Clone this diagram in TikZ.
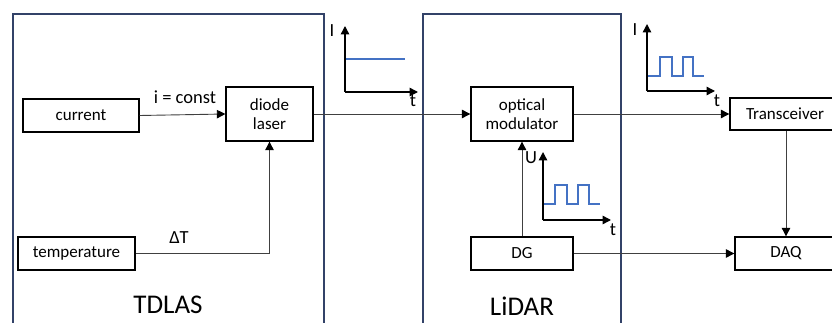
\documentclass[tikz,border=0pt]{standalone}
\usepackage{fontspec}
\setmainfont{Carlito}
\usetikzlibrary{arrows.meta}
\definecolor{framec}{RGB}{50,66,104}
\definecolor{sigblue}{RGB}{68,114,196}
\begin{document}
\begin{tikzpicture}[x=1pt,y=-1pt,
  blk/.style={draw=black,line width=1.3pt,inner sep=0pt,align=center,font=\fontsize{17}{19.5}\selectfont},
  conn/.style={draw=black!75,line width=0.9pt,-{Triangle[length=8.5pt,width=8.5pt,color=black]}},
  axis/.style={draw=black,line width=1.4pt,-{Triangle[length=8.5pt,width=8.5pt]}},
  frame/.style={draw=framec,line width=1.1pt},
  lbl/.style={font=\fontsize{18.5}{21}\selectfont,inner sep=0pt},
  big/.style={font=\fontsize{27}{30}\selectfont,inner sep=0pt},
  sig/.style={draw=sigblue,line width=1.8pt}]
\useasboundingbox (0,0) rectangle (832,323);
\clip (0,0) rectangle (832,323);
\fill[white] (0,0) rectangle (832,323);
% frames
\draw[frame] (13,14) rectangle (324,340);
\draw[frame] (423,14) rectangle (621,340);
\node[big] (tdlas) at (168,305) {TDLAS};
\node[big] (lidar) at (522,306) {LiDAR};
% blocks
\node[blk,minimum width=116pt,minimum height=33pt] (cur) at (81,115.5) {current};
\node[blk,minimum width=87pt,minimum height=54pt] (dl) at (269.5,114) {diode\\laser};
\node[blk,minimum width=117pt,minimum height=33pt] (temp) at (76.5,253.5) {temperature};
\node[blk,minimum width=102pt,minimum height=54pt] (om) at (522,114) {optical\\modulator};
\node[blk,minimum width=110pt,minimum height=32pt] (tr) at (785,114) {Transceiver};
\node[blk,minimum width=102pt,minimum height=33pt] (dg) at (522,253.5) {DG};
\node[blk,minimum width=102pt,minimum height=33pt] (daq) at (786,253.5) {DAQ};
% labels
\node[lbl] (iconst) at (185,97) {i = const};
\node[lbl] (dT) at (179,238) {ΔT};
% connectors
\draw[conn] (cur.east) -- (dl.west);
\draw[conn] (temp.east) -| (dl.south);
\draw[conn] (dl.east) -- (om.west);
\draw[conn] (om.east) -- (tr.west);
\draw[conn] (dg.north) -- (om.south);
\draw[conn] (dg.east) -- (daq.west);
\draw[conn] (tr.south -| 786,0) -- (daq.north -| 786,0);
% graph 1
\coordinate (o1) at (345,92);
\coordinate (y1) at (345,26);
\coordinate (x1) at (418,92);
\draw[axis] (o1) -- (y1);
\draw[axis] (o1) -- (x1);
\node[lbl] (I1) at (332,31) {I};
\node[lbl] (t1) at (413,101) {t};
\draw[sig] (346,59) -- (405,59);
% graph 2
\coordinate (o2) at (543,220);
\coordinate (y2) at (543,152);
\coordinate (x2) at (611,220);
\draw[axis] (o2) -- (y2);
\draw[axis] (o2) -- (x2);
\node[lbl] (U2) at (531,158) {U};
\node[lbl] (t2) at (613,230) {t};
\draw[sig] (544,204) -- (555,204) -- (555,185) -- (567,185) -- (567,204) -- (578,204) -- (578,185) -- (589,185) -- (589,204) -- (600,204);
% graph 3
\coordinate (o3) at (647,91);
\coordinate (y3) at (647,24);
\coordinate (x3) at (715,91);
\draw[axis] (o3) -- (y3);
\draw[axis] (o3) -- (x3);
\node[lbl] (I3) at (635,30) {I};
\node[lbl] (t3) at (717,101) {t};
\draw[sig] (648,76) -- (660,76) -- (660,57) -- (672,57) -- (672,76) -- (683,76) -- (683,57) -- (693,57) -- (693,76) -- (704,76);
\end{tikzpicture}
\end{document}
